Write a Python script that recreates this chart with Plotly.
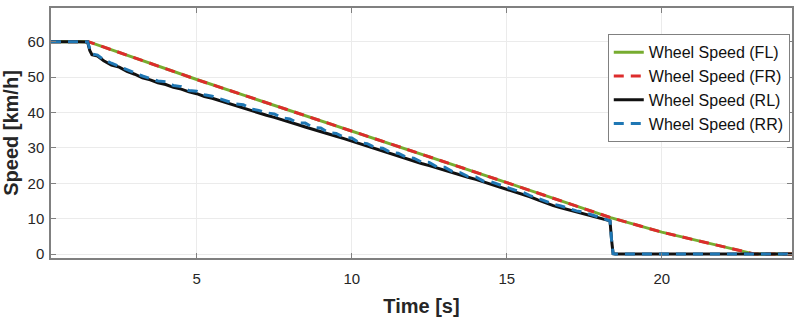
import plotly.graph_objects as go

# Front wheels (FL, FR)
t_front = [0.3, 1.5, 5.0, 10.0, 15.0, 18.35, 20.0, 23.0, 24.2]
fl = [60.0, 60.0, 49.3, 34.8, 20.2, 10.3, 6.2, 0.0, 0.0]
fr = [60.0, 60.0, 49.3, 34.8, 20.2, 10.3, 6.2, 0.0, 0.0]

# Rear wheels (RL, RR)
t_rear = [0.30, 0.80, 1.20, 1.48, 1.55, 1.62, 1.80, 2.00, 2.25, 2.50,
          2.75, 3.00, 3.25, 3.50, 3.75, 4.00, 4.25, 4.50, 4.75, 5.00,
          5.25, 5.50, 5.75, 6.00, 6.25, 6.50, 6.75, 7.00, 7.25, 7.50,
          7.75, 8.00, 8.25, 8.50, 8.75, 9.00, 9.25, 9.50, 9.75, 10.00,
          10.25, 10.50, 10.75, 11.00, 11.25, 11.50, 11.75, 12.00, 12.25, 12.50,
          12.75, 13.00, 13.25, 13.50, 13.75, 14.00, 14.25, 14.50, 14.75, 15.00,
          15.25, 15.50, 15.75, 16.00, 16.25, 16.50, 16.75, 17.00, 17.25, 17.50,
          17.75, 18.00, 18.25, 18.33, 18.38, 18.43, 18.50, 24.20]
rl = [60.0, 60.1, 60.0, 59.9, 57.5, 56.3, 55.9, 54.6, 53.4, 52.8,
      51.6, 50.8, 49.8, 49.2, 48.4, 47.9, 47.1, 46.6, 45.8, 45.3,
      44.5, 44.0, 43.3, 42.5, 41.9, 41.3, 40.5, 39.9, 39.2, 38.6,
      38.0, 37.2, 36.6, 35.9, 35.3, 34.6, 33.9, 33.3, 32.6, 31.9,
      31.0, 30.4, 29.7, 29.0, 28.3, 27.7, 26.9, 26.3, 25.6, 25.0,
      24.3, 23.7, 23.0, 22.4, 21.7, 21.1, 20.4, 19.9, 19.2, 18.5,
      17.7, 17.0, 16.2, 15.3, 14.4, 13.7, 13.1, 12.5, 11.9, 11.2,
      10.6, 10.1, 9.6, 9.4, 4.0, 0.1, 0.0, 0.0]
rr = [60.0, 60.0, 60.0, 60.0, 58.0, 56.5, 56.2, 54.9, 53.9, 53.0,
      52.0, 51.3, 50.3, 49.6, 48.9, 48.7, 47.6, 47.3, 46.2, 46.0,
      45.0, 44.6, 43.9, 43.3, 42.4, 42.2, 41.0, 40.6, 39.9, 39.6,
      38.5, 38.2, 37.1, 37.0, 35.8, 35.6, 34.3, 34.1, 33.0, 32.8,
      31.4, 31.2, 30.1, 29.9, 28.7, 28.5, 27.4, 27.1, 26.0, 25.9,
      24.6, 24.5, 23.3, 23.0, 21.9, 21.8, 20.6, 20.4, 19.6, 18.9,
      18.1, 17.5, 16.5, 15.8, 15.0, 14.1, 13.6, 12.9, 12.2, 11.8,
      11.1, 10.4, 9.8, 9.4, 4.0, 0.1, 0.0, 0.0]

x_ticks = [5, 10, 15, 20]
y_ticks = [0, 10, 20, 30, 40, 50, 60]

FONT = "Liberation Sans, Arial, sans-serif"

fig = go.Figure()
fig.add_trace(go.Scatter(x=t_front, y=fl, mode="lines", name="Wheel Speed (FL)",
                         line=dict(color="#77ac30", width=3)))
fig.add_trace(go.Scatter(x=t_front, y=fr, mode="lines", name="Wheel Speed (FR)",
                         line=dict(color="#dd2c2c", width=3, dash="10px,7px")))
fig.add_trace(go.Scatter(x=t_rear, y=rl, mode="lines", name="Wheel Speed (RL)",
                         line=dict(color="#111111", width=3)))
fig.add_trace(go.Scatter(x=t_rear, y=rr, mode="lines", name="Wheel Speed (RR)",
                         line=dict(color="#1f77b4", width=3, dash="10px,7px")))

axis_common = dict(showline=True, linecolor="#808080", linewidth=1.5, mirror="allticks",
                   ticks="inside", ticklen=5, tickcolor="#808080",
                   showgrid=True, gridcolor="#ebebeb", gridwidth=1, zeroline=False,
                   tickfont=dict(family=FONT, size=15, color="#262626"))

fig.update_xaxes(range=[0.3, 24.2], tickvals=x_ticks, ticklabelstandoff=6,
                 title=dict(text="<b>Time [s]</b>", font=dict(family=FONT, size=20, color="#262626"),
                            standoff=13),
                 **axis_common)
fig.update_yaxes(range=[-1.1, 69.5], tickvals=y_ticks, ticklabelstandoff=2,
                 title=dict(text="<b>Speed [km/h]</b>", font=dict(family=FONT, size=20, color="#262626"),
                            standoff=8),
                 **axis_common)

fig.update_layout(
    width=800, height=321,
    margin=dict(l=51, r=6, t=6, b=63),
    plot_bgcolor="white", paper_bgcolor="white",
    showlegend=True,
    legend=dict(x=0.997, y=0.895, xanchor="right", yanchor="top",
                bgcolor="white", bordercolor="#808080", borderwidth=1,
                font=dict(family=FONT, size=16, color="#111111"),
                itemwidth=30, tracegroupgap=0),
)

fig.write_html("out.html")
